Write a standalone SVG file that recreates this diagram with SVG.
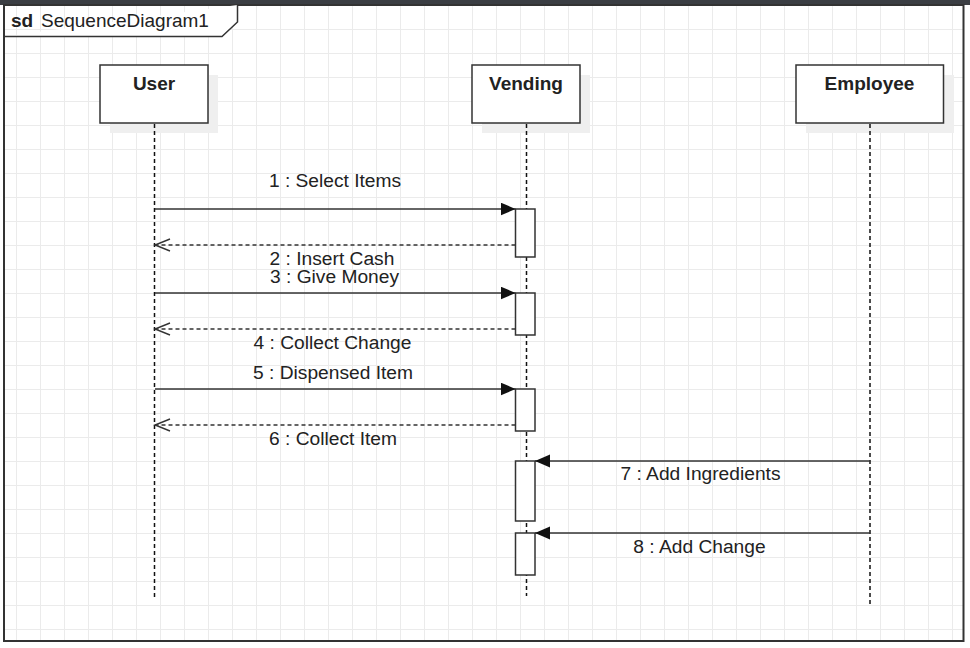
<svg xmlns="http://www.w3.org/2000/svg" width="970" height="648" viewBox="0 0 970 648">
<style>
text{font-family:"Liberation Sans",Arial,sans-serif;fill:#222}
.lbl{font-size:19.2px;text-anchor:middle}
.name{font-size:19px;font-weight:bold;text-anchor:middle}
.head{fill:#fff;stroke:#333;stroke-width:1.5}
.shadow{fill:#efefef}
.life{stroke:#111;stroke-width:1.5;stroke-dasharray:4 3;fill:none}
.act{fill:#fff;stroke:#333;stroke-width:1.5}
.msg{stroke:#333;stroke-width:1.5;fill:none}
.ret{stroke:#333;stroke-width:1.5;fill:none;stroke-dasharray:4 3}
</style>
<defs>
<pattern id="grid" patternUnits="userSpaceOnUse" x="16" y="5" width="24" height="24">
<path d="M0 0.5H24M0.5 0V24" stroke="#ebebeb" stroke-width="1" fill="none"/>
</pattern>
<marker id="filled" markerUnits="userSpaceOnUse" markerWidth="16" markerHeight="14" refX="15" refY="6.5" orient="auto">
<path d="M0 0L15 6.5L0 13Z" fill="#111"/>
</marker>
<marker id="open" markerUnits="userSpaceOnUse" markerWidth="18" markerHeight="16" refX="16" refY="7" orient="auto">
<path d="M1 1L16 7L1 13" fill="none" stroke="#333" stroke-width="1.4"/>
</marker>
</defs>
<rect x="0" y="0" width="970" height="648" fill="#fff"/>
<rect x="4" y="5" width="960" height="636" fill="url(#grid)"/>
<rect x="0" y="0" width="970" height="5" fill="#3b3e43"/>
<g id="frame">
<rect x="4" y="5" width="959.5" height="636" fill="none" stroke="#333" stroke-width="2"/>
<path d="M4 36.5H222L237.5 22V5" fill="#fff" stroke="#333" stroke-width="1.5"/>
<text x="11" y="27" style="font-size:19px;font-weight:bold">sd</text>
<text x="41" y="27" style="font-size:19px">SequenceDiagram1</text>
</g>
<g id="user">
<rect class="shadow" x="110" y="75" width="108" height="58"/>
<rect class="head" x="100" y="65" width="108" height="58"/>
<text class="name" x="154" y="90">User</text>
<line class="life" x1="154.5" y1="124" x2="154.5" y2="598"/>
</g>
<g id="vending">
<rect class="shadow" x="482" y="75" width="108" height="58"/>
<rect class="head" x="472" y="65" width="108" height="58"/>
<text class="name" x="526" y="90">Vending</text>
<line class="life" x1="526.5" y1="124" x2="526.5" y2="596"/>
</g>
<g id="employee">
<rect class="shadow" x="806" y="75" width="148" height="58"/>
<rect class="head" x="796" y="65" width="147.5" height="58"/>
<text class="name" x="869.5" y="90">Employee</text>
<line class="life" x1="870" y1="124" x2="870" y2="605"/>
</g>
<g id="activations">
<rect class="act" x="515.5" y="209" width="19.5" height="48"/>
<rect class="act" x="515.5" y="293" width="19.5" height="42"/>
<rect class="act" x="515.5" y="389" width="19.5" height="42"/>
<rect class="act" x="515.5" y="461" width="19.5" height="60"/>
<rect class="act" x="515.5" y="533" width="19.5" height="42"/>
</g>
<g id="connectors">
<line class="msg" x1="155" y1="209" x2="515.5" y2="209" marker-end="url(#filled)"/>
<line class="ret" x1="515.5" y1="245" x2="155" y2="245" marker-end="url(#open)"/>
<line class="msg" x1="155" y1="293" x2="515.5" y2="293" marker-end="url(#filled)"/>
<line class="ret" x1="515.5" y1="329" x2="155" y2="329" marker-end="url(#open)"/>
<line class="msg" x1="155" y1="389" x2="515.5" y2="389" marker-end="url(#filled)"/>
<line class="ret" x1="515.5" y1="425" x2="155" y2="425" marker-end="url(#open)"/>
<line class="msg" x1="870" y1="461" x2="535" y2="461" marker-end="url(#filled)"/>
<line class="msg" x1="870" y1="533" x2="535" y2="533" marker-end="url(#filled)"/>
</g>
<g id="labels">
<text class="lbl" x="335" y="187">1 : Select Items</text>
<text class="lbl" x="332" y="264.5">2 : Insert Cash</text>
<text class="lbl" x="334.5" y="283">3 : Give Money</text>
<text class="lbl" x="332.5" y="348.5">4 : Collect Change</text>
<text class="lbl" x="333" y="378.5">5 : Dispensed Item</text>
<text class="lbl" x="333" y="444.5">6 : Collect Item</text>
<text class="lbl" x="700.5" y="480">7 : Add Ingredients</text>
<text class="lbl" x="699.5" y="552.5">8 : Add Change</text>
</g>
</svg>
